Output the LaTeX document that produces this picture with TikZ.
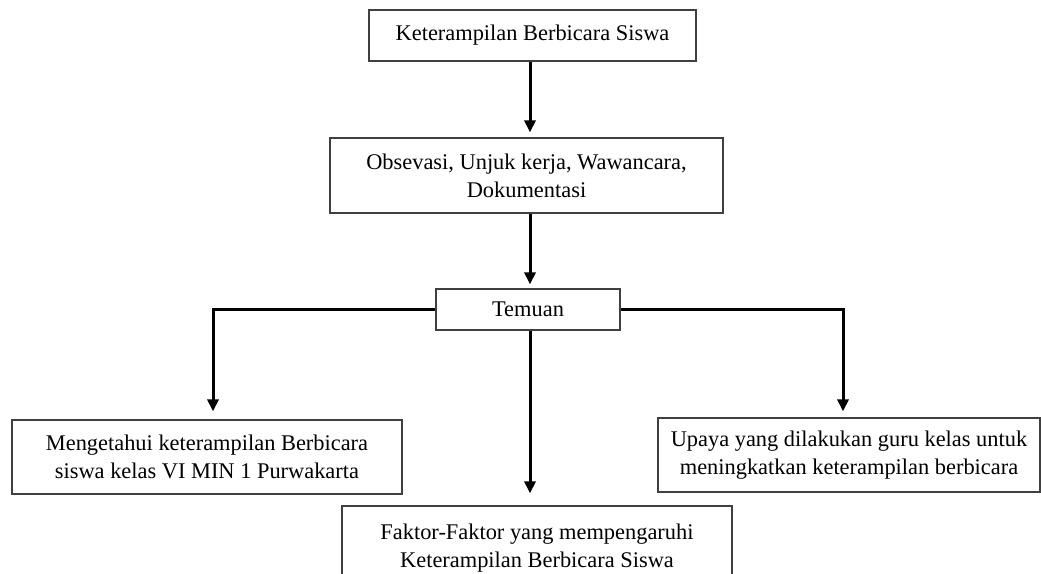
\documentclass[tikz,border=0pt]{standalone}
\usepackage{fontspec}
\setmainfont{Liberation Serif}
\usetikzlibrary{arrows.meta}
\tikzset{
	kotak/.style={draw=black!75, line width=1.2pt, fill=white, align=center, inner sep=0pt,
		font=\fontsize{22.4}{28}\selectfont},
	panah/.style={line width=3pt, -{Triangle[length=12pt,width=11pt]}}
}

\begin{document}
\begin{tikzpicture}[x=1pt, y=-1pt]

\useasboundingbox (0,0) rectangle (1041,573)							;

%%%%------------Kotak atas----------------%%
\node [kotak, minimum width=327pt, minimum height=51pt] (judul) at (532.5,35.5) {Keterampilan Berbicara Siswa}	;
\node [kotak, minimum width=393pt, minimum height=75pt] (metode) at (526.5,175.5) {Obsevasi, Unjuk kerja, Wawancara,\\ Dokumentasi}	;
\node [kotak, minimum width=184pt, minimum height=41pt] (temuan) at (528,309.5) {Temuan}	;

%%%%------------Kotak bawah----------------%%
\node [kotak, minimum width=390pt, minimum height=74pt] (mengetahui) at (207,457) {Mengetahui keterampilan Berbicara\\ siswa kelas VI MIN 1 Purwakarta}	;
\node [kotak, minimum width=382pt, minimum height=74pt] (upaya) at (849,455) {Upaya yang dilakukan guru kelas untuk\\ meningkatkan keterampilan berbicara}	;
\node [kotak, minimum width=390pt, minimum height=84pt] (faktor) at (537,548) {Faktor-Faktor yang mempengaruhi\\ Keterampilan Berbicara Siswa}	;

%%%-------------Panah-------------%%%
\draw [panah, shorten >=5pt] (judul.south -| 530,0) -- (metode.north -| 530,0)	;
\draw [panah, shorten >=4pt] (metode.south -| 530,0) -- (temuan.north -| 530,0)	;
\draw [panah, shorten >=8pt] (temuan.west) -| ([xshift=6pt]mengetahui.north)	;
\draw [panah, shorten >=6pt] (temuan.east) -| ([xshift=-6pt]upaya.north)	;
\draw [panah, shorten >=12pt] (temuan.south -| 530,0) -- (faktor.north -| 530,0)	;

\end{tikzpicture}
\end{document}
